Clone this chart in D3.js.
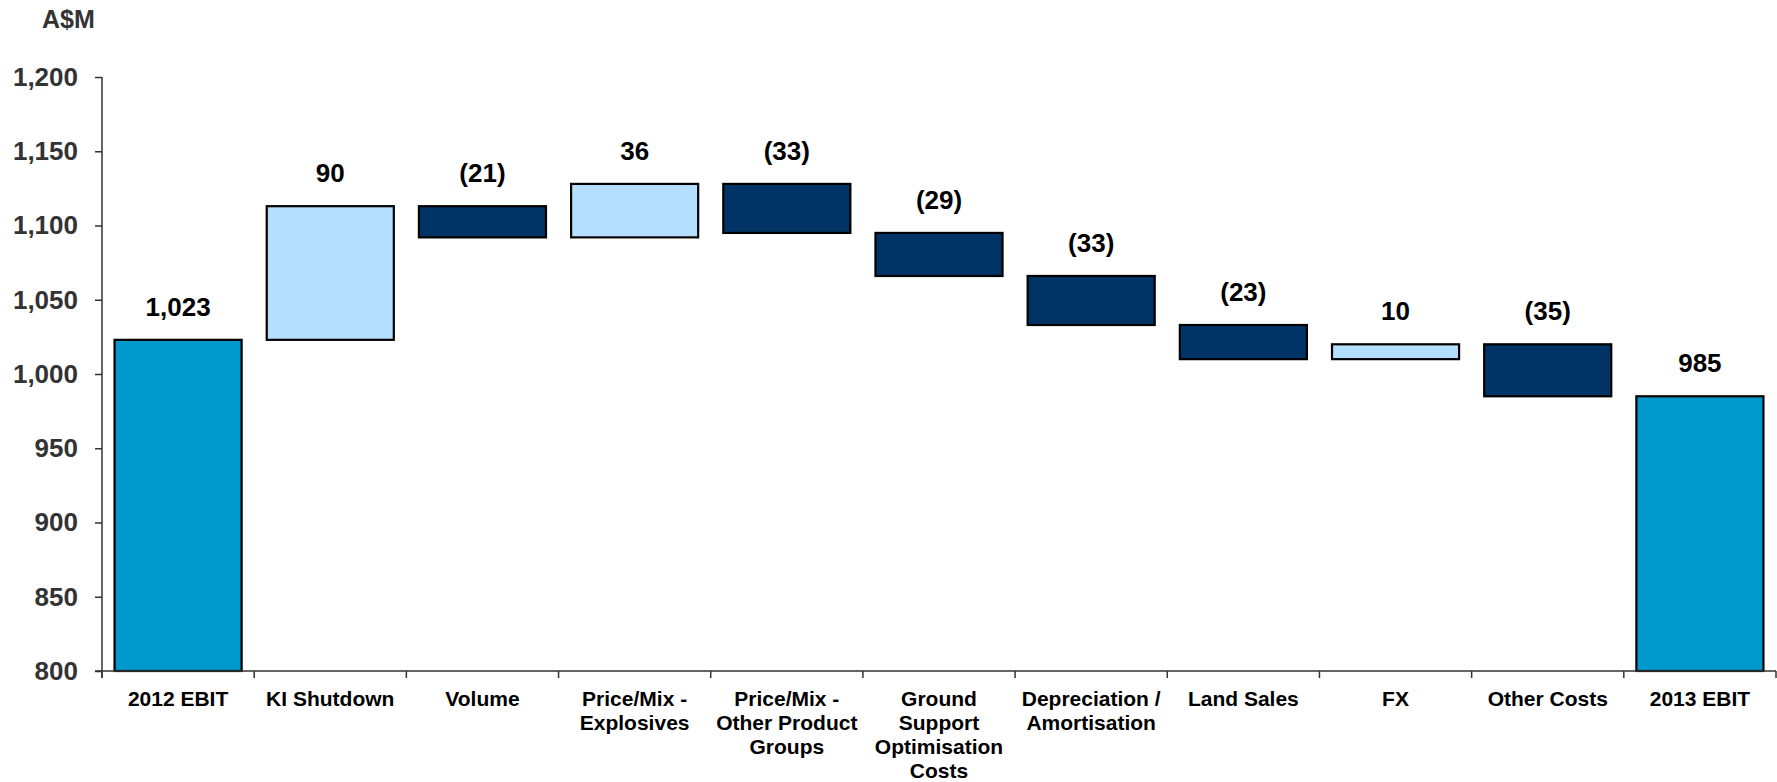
<!DOCTYPE html>
<html lang="en">
<head>
<meta charset="UTF-8">
<title>EBIT bridge</title>
<script src="https://cdn.jsdelivr.net/npm/d3@7"></script>
<style>
  body { margin: 0; background: #fff; }
  text { font-family: "Liberation Sans", Arial, sans-serif; font-weight: bold; }
</style>
</head>
<body>
<div id="chart"></div>
<script>
// data
var categories = ["2012 EBIT", "KI Shutdown", "Volume", "Price/Mix -\nExplosives",
  "Price/Mix -\nOther Product\nGroups", "Ground\nSupport\nOptimisation\nCosts",
  "Depreciation /\nAmortisation", "Land Sales", "FX", "Other Costs", "2013 EBIT"];
var changes = [1023, 90, -21, 36, -33, -29, -33, -23, 10, -35, 985]; // first and last are totals
var kinds = ["total", "delta", "delta", "delta", "delta", "delta", "delta", "delta", "delta", "delta", "total"];
var yTicks = [800, 850, 900, 950, 1000, 1050, 1100, 1150, 1200];

var W = 1777, H = 782;
var mLeft = 102, mRight = 1776, mTop = 77, mBottom = 671;

// running totals -> bar ends
var bars = [];
var run = 0;
for (var i = 0; i < categories.length; i++) {
  var lo, hi;
  if (kinds[i] == "total") { lo = 800; hi = changes[i]; run = changes[i]; }
  else { var prev = run; run = run + changes[i]; lo = Math.min(prev, run); hi = Math.max(prev, run); }
  bars.push({ cat: categories[i], v: changes[i], kind: kinds[i], lo: lo, hi: hi });
}

var svg = d3.select("#chart").append("svg")
  .attr("width", W).attr("height", H);

var x = d3.scaleBand()
  .domain(categories)
  .range([mLeft, mRight])
  .paddingInner(0.165)
  .paddingOuter(0.0825);

var y = d3.scaleLinear().domain([800, 1200]).range([mBottom, mTop]);

function fillOf(d) {
  if (d.kind == "total") return "#0099cc";
  return d.v < 0 ? "#003366" : "#b4dfff";
}

// bars
svg.selectAll("rect.bar").data(bars).enter().append("rect")
  .attr("class", "bar")
  .attr("x", function(d) { return x(d.cat); })
  .attr("y", function(d) { return y(d.hi); })
  .attr("width", x.bandwidth())
  .attr("height", function(d) { return y(d.lo) - y(d.hi); })
  .attr("fill", fillOf)
  .attr("stroke", "#000")
  .attr("stroke-width", 2.2);

// value labels
var fmt = d3.format(",");
svg.selectAll("text.val").data(bars).enter().append("text")
  .attr("class", "val")
  .attr("x", function(d) { return x(d.cat) + x.bandwidth() / 2; })
  .attr("y", function(d) { return y(d.hi) - 24; })
  .attr("text-anchor", "middle")
  .attr("font-size", 26)
  .attr("fill", "#000")
  .text(function(d) { return d.v < 0 ? "(" + fmt(-d.v) + ")" : fmt(d.v); });

// y axis
var yAxis = d3.axisLeft(y).tickValues(yTicks).tickSize(7).tickPadding(17).tickFormat(fmt);
var gy = svg.append("g").attr("transform", "translate(" + mLeft + ",0)").call(yAxis);
gy.select(".domain").remove();
gy.selectAll(".tick line").attr("stroke", "#333").attr("stroke-width", 1.5);
gy.selectAll(".tick text").attr("font-size", 26).attr("fill", "#333")
  .style("font-family", "'Liberation Sans', Arial, sans-serif").style("font-weight", "bold");
svg.append("line").attr("x1", mLeft).attr("x2", mLeft).attr("y1", mTop).attr("y2", mBottom + 7)
  .attr("stroke", "#333").attr("stroke-width", 1.5);

// x axis line + boundary ticks
svg.append("line").attr("x1", mLeft - 7).attr("x2", mRight).attr("y1", mBottom).attr("y2", mBottom)
  .attr("stroke", "#333").attr("stroke-width", 1.5);
var bounds = categories.map(function(c) { return x(c) - x.step() * x.paddingOuter(); });
bounds.push(mRight);
svg.selectAll("line.xt").data(bounds).enter().append("line")
  .attr("class", "xt")
  .attr("x1", function(d) { return d; }).attr("x2", function(d) { return d; })
  .attr("y1", mBottom).attr("y2", mBottom + 7)
  .attr("stroke", "#333").attr("stroke-width", 1.5);

// category labels
var cl = svg.selectAll("text.cat").data(categories).enter().append("text")
  .attr("class", "cat")
  .attr("text-anchor", "middle")
  .attr("font-size", 21)
  .attr("fill", "#000");
cl.each(function(c) {
  var t = d3.select(this);
  var cx = x(c) + x.bandwidth() / 2;
  c.split("\n").forEach(function(line, k) {
    t.append("tspan").attr("x", cx).attr("y", mBottom + 35 + k * 24).text(line);
  });
});

// unit label
svg.append("text").attr("x", 42).attr("y", 28).attr("font-size", 25).attr("fill", "#333").text("A$M");
</script>
</body>
</html>
